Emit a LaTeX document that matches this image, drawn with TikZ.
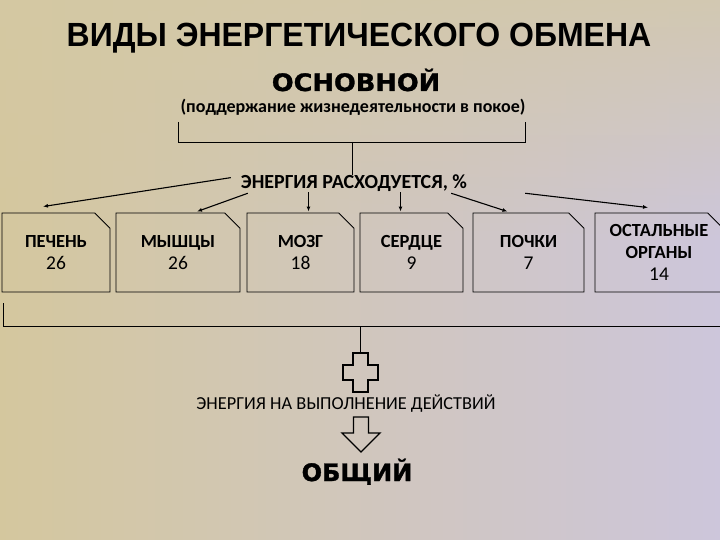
\documentclass[tikz,border=0pt]{standalone}
\usepackage{fontspec}
\setmainfont{Carlito}
\newfontfamily\headfont{Liberation Sans}[FakeStretch=0.955]
\newfontfamily\widefont{DejaVu Sans}[FakeStretch=1.07, FakeBold=1.2]
\newfontfamily\blockfont{DejaVu Sans}[FakeBold=1.5]
\usetikzlibrary{shapes.misc}
\usetikzlibrary{arrows.meta}
\usetikzlibrary{fadings}

\definecolor{bgleft}{RGB}{212,199,158}
\definecolor{bgmid}{RGB}{237,234,216}
\definecolor{bgright}{RGB}{205,198,219}
\definecolor{bgtop}{RGB}{212,201,164}

\tikzfading[name=fadedown, top color=transparent!0, bottom color=transparent!100]

\newcommand{\organname}[1]{{\bfseries\fontsize{18.5}{22}\selectfont #1}}

\tikzset{
    headline/.style={font=\headfont\bfseries\fontsize{33.5}{38}\selectfont, inner sep=0pt},
    kind/.style={font=\widefont\bfseries\fontsize{24}{28}\selectfont, inner sep=0pt},
    note/.style={font=\bfseries\fontsize{18}{21}\selectfont, inner sep=0pt},
    spendlabel/.style={font=\bfseries\fontsize{20}{24}\selectfont, inner sep=0pt},
    organ/.style={
        draw, line width=0.9pt,
        chamfered rectangle, chamfered rectangle corners=north east,
        chamfered rectangle xsep=12pt,
        minimum height=79pt, inner sep=0pt, align=center,
        font=\fontsize{19.5}{22}\selectfont,
        },
    feed/.style={line width=1.1pt, -{Latex[length=5pt,width=4pt]}},
    bracket/.style={line width=0.9pt},
    blockarrow/.style={line width=1.3pt, line join=miter},
}

\begin{document}
\begin{tikzpicture}[x=1pt, y=-1pt]

% Background
\useasboundingbox (0,0) rectangle (720,540);
\clip (0,0) rectangle (720,540);
\shade[left color=bgleft, middle color=bgmid, right color=bgright] (0,0) rectangle (720,540);
\fill[bgtop, opacity=0.75, path fading=fadedown] (0,0) rectangle (720,240);

% Headings
\node[headline, anchor=base] (title) at (359,47) {ВИДЫ ЭНЕРГЕТИЧЕСКОГО ОБМЕНА};
\node[kind, anchor=base] (basal) at (356,91) {ОСНОВНОЙ};
\node[note, anchor=base] (rest) at (353,113) {(поддержание жизнедеятельности в покое)};
\node[spendlabel, anchor=base] (spend) at (354,189) {ЭНЕРГИЯ РАСХОДУЕТСЯ, \%};

% Draws top bracket
\coordinate (topleft) at (178,122);
\coordinate (topright) at (525,122);
\coordinate (tophub) at (352,142);
\draw[bracket] (topleft) -- (178,142) -| (topright);
\draw[bracket] (tophub) -- (spend.north -| tophub);

% Organ boxes
\node[organ, minimum width=108pt] (liver) at (56,252.5) {\organname{ПЕЧЕНЬ}\\26};
\node[organ, minimum width=124pt] (muscle) at (178,252.5) {\organname{МЫШЦЫ}\\26};
\node[organ, minimum width=107pt] (brain) at (300.5,252.5) {\organname{МОЗГ}\\18};
\node[organ, minimum width=103pt] (heart) at (411.5,252.5) {\organname{СЕРДЦЕ}\\9};
\node[organ, minimum width=111pt] (kidney) at (528.5,252.5) {\organname{ПОЧКИ}\\7};
\node[organ, minimum width=128pt] (others) at (659,252.5) {\organname{ОСТАЛЬНЫЕ}\\\organname{ОРГАНЫ}\\14};

% Draws lines
\draw[feed] ([xshift=-10pt,yshift=6pt]spend.west) -- ([xshift=-13pt,yshift=6pt]liver.north);
\draw[feed] ([xshift=7pt,yshift=-1pt]spend.south west) -- ([xshift=19pt,yshift=1pt]muscle.north);
\coordinate (braintop) at ([xshift=8pt,yshift=1pt]brain.north);
\draw[feed] (spend.south -| braintop) -- (braintop);
\coordinate (hearttop) at ([xshift=-11pt,yshift=1pt]heart.north);
\draw[feed] (spend.south -| hearttop) -- (hearttop);
\draw[feed] ([xshift=-16pt,yshift=-1pt]spend.south east) -- ([xshift=-21pt,yshift=1pt]kidney.north);
\draw[feed] ([xshift=58pt,yshift=-1pt]spend.south east) -- ([xshift=-11pt,yshift=5pt]others.north);

% Draws bottom bracket
\coordinate (lowleft) at (3,303);
\coordinate (lowright) at (730,326);
\coordinate (lowhub) at (360.5,326);
\coordinate (plustop) at (360.5,353);
\draw[bracket] (lowleft) |- (lowright);
\draw[bracket] (lowhub) -- (plustop);

% Plus sign
\draw[blockarrow] (353,353) -- (368,353) -- (368,365) -- (378,365) -- (378,380)
    -- (368,380) -- (368,392) -- (353,392) -- (353,380) -- (343,380)
    -- (343,365) -- (353,365) -- cycle;

\node[font=\fontsize{18.3}{21}\selectfont, inner sep=0pt, anchor=base] (action) at (346,409)
    {ЭНЕРГИЯ НА ВЫПОЛНЕНИЕ ДЕЙСТВИЙ};

% Down arrow
\draw[blockarrow] (353.5,417) -- (368.5,417) -- (368.5,433) -- (380,433) -- (361,452)
    -- (342,433) -- (353.5,433) -- cycle;

\node[font=\blockfont\bfseries\fontsize{24}{28}\selectfont, inner sep=0pt, anchor=base] (total) at (357,481) {ОБЩИЙ};

\end{tikzpicture}
\end{document}
